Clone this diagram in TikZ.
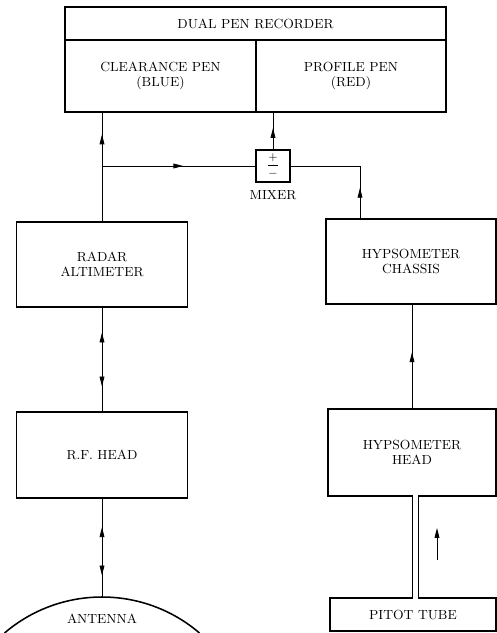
\documentclass[tikz,border=0pt]{standalone}
\usepackage{fontspec}
\usepackage{tikz}
\usetikzlibrary{positioning,arrows.meta,decorations.markings,calc}

\newcommand{\diafont}{\fontsize{9.4}{11}\selectfont\addfontfeatures{LetterSpace=9}}

\begin{document}
\begin{tikzpicture}[
    >={Triangle[length=7pt,width=3.4pt]},
    every node/.style={font=\diafont},
    blk/.style={
        rectangle, draw=black, line width=1.1pt, align=center, inner sep=2pt
    },
    wire/.style={line width=0.6pt},
    fwd/.style={postaction={decorate},
        decoration={markings, mark=at position #1 with {\arrow{>}}}},
    twoway/.style 2 args={postaction={decorate},
        decoration={markings, mark=at position #1 with {\arrowreversed{>}},
            mark=at position #2 with {\arrow{>}}}}
]

\useasboundingbox (0,0) rectangle (12.425,15.825);

\node[blk, minimum width=9.525cm, minimum height=0.825cm] (REC) at (6.3875,15.2375) {DUAL PEN RECORDER};
\node[blk, minimum width=4.775cm, minimum height=1.8cm] (CP) at (4.0125,13.925) {CLEARANCE PEN\\(BLUE)};
\node[blk, minimum width=4.75cm, minimum height=1.8cm] (PP) at (8.775,13.925) {PROFILE PEN\\(RED)};

\node[blk, minimum width=0.85cm, minimum height=0.8cm, inner sep=0pt, font=\fontsize{8}{8}\selectfont] (MX) at (6.825,11.675) {$\displaystyle\frac{+}{-}$};
\node[below=0.08cm of MX] (MXL) {MIXER};

\node[blk, minimum width=4.275cm, minimum height=2.125cm] (RA) at (2.55,9.2125) {RADAR\\ALTIMETER};
\node[blk, minimum width=4.275cm, minimum height=2.15cm] (RF) at (2.55,4.45) {R.F. HEAD};

\node[blk, minimum width=4.25cm, minimum height=2.125cm] (HC) at (10.275,9.2875) {HYPSOMETER\\CHASSIS};
\node[blk, minimum width=4.2cm, minimum height=2.175cm] (HH) at (10.3,4.5125) {HYPSOMETER\\HEAD};
\node[blk, minimum width=4.15cm, minimum height=0.825cm] (PT) at (10.325,0.4625) {PITOT TUBE};

\coordinate (ANTtop) at (2.55,0.9);
\draw[line width=1.1pt] ($(ANTtop)+(0,-3.75)$) ++(49.46:3.75) arc[start angle=49.46, end angle=130.54, radius=3.75];
\node (ANT) at (2.55,0.35) {ANTENNA};

\coordinate (TL) at (10.3125,2);
\coordinate (TR) at (10.4625,2);
\fill[white] ($(HH.south -| TL)+(0.6pt,1.5pt)$) rectangle ($(PT.north -| TR)+(-0.6pt,-1.5pt)$);
\draw[line width=1.1pt] (HH.south -| TL) -- (PT.north -| TL);
\draw[line width=1.1pt] (HH.south -| TR) -- (PT.north -| TR);

\coordinate (FA) at (10.925,1.825);
\coordinate (FB) at (10.925,2.625);
\draw[wire, ->] (FA) -- (FB);

\coordinate (J) at (RA.north |- MX.west);
\draw[wire, fwd=0.8] (RA.north) -- (RA.north |- CP.south);
\draw[wire, fwd=0.53] (J) -- (MX.west);
\draw[wire, fwd=0.58] (MX.north) -- (MX.north |- PP.south);
\draw[wire, fwd=0.25] ([xshift=-1.275cm]HC.north) |- (MX.east);
\draw[wire, twoway={0.24}{0.76}] (RA.south) -- (RF.north);
\draw[wire, twoway={0.29}{0.78}] (RF.south) -- (ANTtop);
\draw[wire, fwd=0.54] (HH.north) -- (HH.north |- HC.south);

\end{tikzpicture}
\end{document}
